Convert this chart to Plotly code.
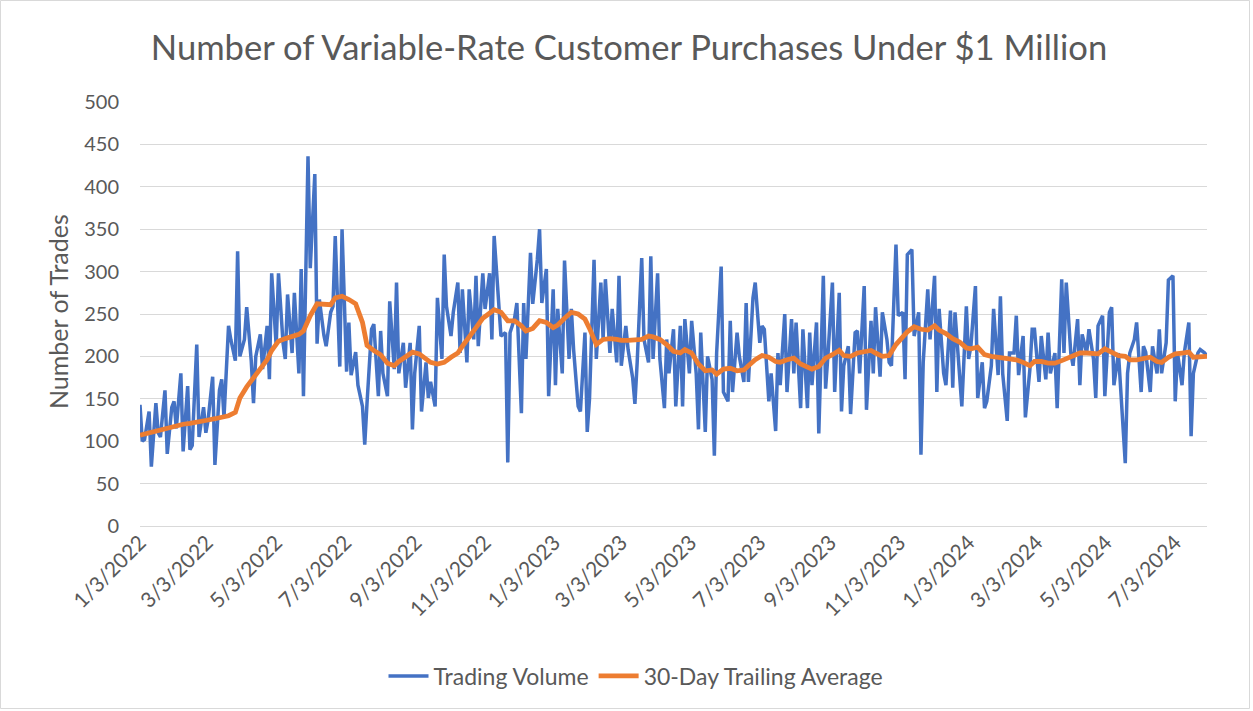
import pandas as pd
import plotly.graph_objects as go

title_text = "Number of Variable-Rate Customer Purchases Under $1 Million"
y_title = "Number of Trades"
series_names = ["Trading Volume", "30-Day Trailing Average"]
start_date = "2022-01-03"
vol_step = 2   # business days between volume samples
avg_step = 4   # business days between average samples

vol_2022 = [143, 100, 102, 135, 70, 145, 110, 105, 160, 85, 140, 147, 115, 180, 88, 165, 90, 95, 214, 105, 140, 110, 125, 176, 72, 160, 173,
            128, 236, 220, 195, 324, 200, 220, 258, 195, 145, 200, 226, 185, 236, 173, 298, 212, 298, 216, 197, 273, 204, 275, 180, 303, 153, 436, 304,
            415, 215, 267, 225, 212, 252, 259, 342, 188, 350, 182, 240, 178, 205, 166, 141, 96, 145, 232, 238, 153, 230, 180, 153, 265, 185, 287, 180, 216,
            163, 216, 114, 180, 236, 135, 193, 151, 170, 141, 269, 197, 320, 259, 224, 252, 287, 204, 279, 193, 279, 220, 295, 212, 298, 256, 298, 220, 342,
            252, 224, 228, 75, 228, 245, 263, 133, 263, 197, 322, 262, 314, 350, 263, 303, 153]
vol_2023 = [279, 166, 256, 180, 313, 197, 256, 208, 141, 135, 228,
            111, 150, 314, 197, 287, 220, 291, 204, 256, 193, 295, 189, 236, 208, 175, 144, 193, 316, 220, 193, 318, 197, 298, 197, 139, 220, 180, 232,
            141, 236, 141, 244, 180, 242, 180, 114, 228, 111, 200, 173, 83, 204, 306, 158, 147, 242, 158, 228, 200, 170, 263, 170, 269, 287, 216, 236,
            232, 147, 180, 112, 204, 166, 250, 158, 244, 180, 240, 139, 232, 139, 228, 166, 240, 109, 295, 162, 200, 287, 158, 275, 135, 189, 212, 132, 228,
            230, 180, 283, 137, 242, 180, 258, 176, 252, 220, 193, 189, 332, 248, 252, 173, 320, 326, 224, 252, 84, 193, 279, 220, 295, 158, 256, 180,
            166, 254, 163, 252, 170, 141]
vol_2024 = [259, 197, 212, 283, 151, 193, 139, 147, 189, 256, 178, 271, 180, 124, 204, 204, 248, 178, 224, 128, 185, 232,
            232, 170, 224, 173, 228, 180, 204, 139, 291, 204, 287, 204, 189, 244, 166, 226, 204, 232, 197, 151, 236, 248, 153, 252, 258, 166, 204, 158, 74,
            180, 204, 220, 240, 158, 212, 205, 158, 212, 180, 232, 180, 216, 290, 295, 147, 204, 166, 204, 240, 106, 180, 204, 208, 204, 200]

avg_2022 = [107, 108.5, 110, 113, 115, 117, 118, 120, 121, 123, 124, 125, 126.5, 128, 130, 134, 151, 164, 174, 184,
            196, 207, 218, 221, 223, 226, 230, 248, 262, 262, 261, 269, 271, 267, 262, 240, 213, 207, 202, 192,
            189, 194, 199, 205, 203, 197, 193, 191, 193, 199, 204, 212, 222, 234, 245, 252, 255, 252, 242, 242,
            236, 230, 233, 242, 240]
avg_2023 = [234, 237, 245, 252, 250, 244, 233, 214, 220, 221, 220, 219, 219, 219, 220, 224, 223, 220, 214, 206,
            204, 208, 204, 191, 183, 184, 179, 185, 186, 183, 184, 189, 196, 201, 199, 194, 193, 196, 198, 191,
            187, 185, 188, 198, 202, 207, 201, 200, 204, 205, 207, 204, 200, 201, 214, 223, 229, 235, 232, 231,
            236, 231, 227, 221, 217]
avg_2024 = [210, 209, 211, 202, 200, 199, 197, 196, 196, 193, 189, 194, 194, 192, 192, 195, 197, 200, 204, 204,
            203, 203, 209, 205, 201, 200, 196, 196, 198, 199, 194, 193, 199, 203, 204, 205, 199, 199, 200]

tick_labels = ["1/3/2022", "3/3/2022", "5/3/2022", "7/3/2022", "9/3/2022", "11/3/2022",
               "1/3/2023", "3/3/2023", "5/3/2023", "7/3/2023", "9/3/2023", "11/3/2023",
               "1/3/2024", "3/3/2024", "5/3/2024", "7/3/2024"]
y_ticks = [0, 50, 100, 150, 200, 250, 300, 350, 400, 450, 500]

vol = vol_2022 + vol_2023 + vol_2024
avg = avg_2022 + avg_2023 + avg_2024
bdays = pd.bdate_range(start_date, periods=max(len(vol) * vol_step, len(avg) * avg_step) + 1)
vol_dates = bdays[::vol_step][:len(vol)]
avg_dates = bdays[::avg_step][:len(avg)]
tickvals = pd.to_datetime(tick_labels, format="%m/%d/%Y")

FONT = "Lato, 'Open Sans', sans-serif"
GREY = "#595959"

fig = go.Figure()
fig.add_trace(go.Scatter(x=vol_dates, y=vol, mode="lines", name=series_names[0],
                         line=dict(color="#4472C4", width=3.5)))
fig.add_trace(go.Scatter(x=avg_dates, y=avg, mode="lines", name=series_names[1],
                         line=dict(color="#ED7D31", width=4.8)))

L, R, T, B = 140, 46, 102, 185
W, H = 1253, 711
pw, ph = W - L - R, H - T - B

fig.update_layout(
    width=W, height=H, autosize=False,
    margin=dict(l=L, r=R, t=T, b=B),
    paper_bgcolor="white", plot_bgcolor="white",
    font=dict(family=FONT, color=GREY),
    title=dict(text=title_text, x=629 / W, xanchor="center", y=1 - 48 / H, yanchor="middle",
               xref="container", yref="container", font=dict(size=34.6, color=GREY, family=FONT)),
    xaxis=dict(type="date", range=[vol_dates[0], vol_dates[-1]], tickvals=tickvals, ticktext=tick_labels,
               tickangle=-45, showgrid=False, zeroline=False, showline=True, linecolor="#d9d9d9",
               linewidth=1, ticks="", tickfont=dict(size=21, color=GREY), ticklabelstandoff=-5),
    yaxis=dict(range=[0, 500], tickvals=y_ticks, showgrid=True, gridcolor="#d9d9d9", gridwidth=1,
               zeroline=False, showline=False, ticks="", tickfont=dict(size=20, color=GREY),
               ticklabelstandoff=20),
    legend=dict(orientation="h", x=(636 - L) / pw, xanchor="center", y=(526 - 676) / ph, yanchor="middle",
                font=dict(size=23, color=GREY), bgcolor="rgba(0,0,0,0)", itemwidth=40),
    showlegend=True,
)

fig.add_annotation(text=y_title, textangle=-90, xref="paper", yref="paper",
                   x=(58 - L) / pw, y=(526 - 312) / ph, xanchor="center", yanchor="middle",
                   showarrow=False, font=dict(size=25, color=GREY, family=FONT))

fig.add_shape(type="rect", xref="paper", yref="paper",
              x0=(0.5 - L) / pw, x1=(1249.5 - L) / pw, y0=(526 - 708.5) / ph, y1=(526 - 0.5) / ph,
              line=dict(color="#d9d9d9", width=1), fillcolor="rgba(0,0,0,0)", layer="below")

fig.write_html("out.html", config={"displayModeBar": False},
               post_script="document.body.style.margin='0';")
